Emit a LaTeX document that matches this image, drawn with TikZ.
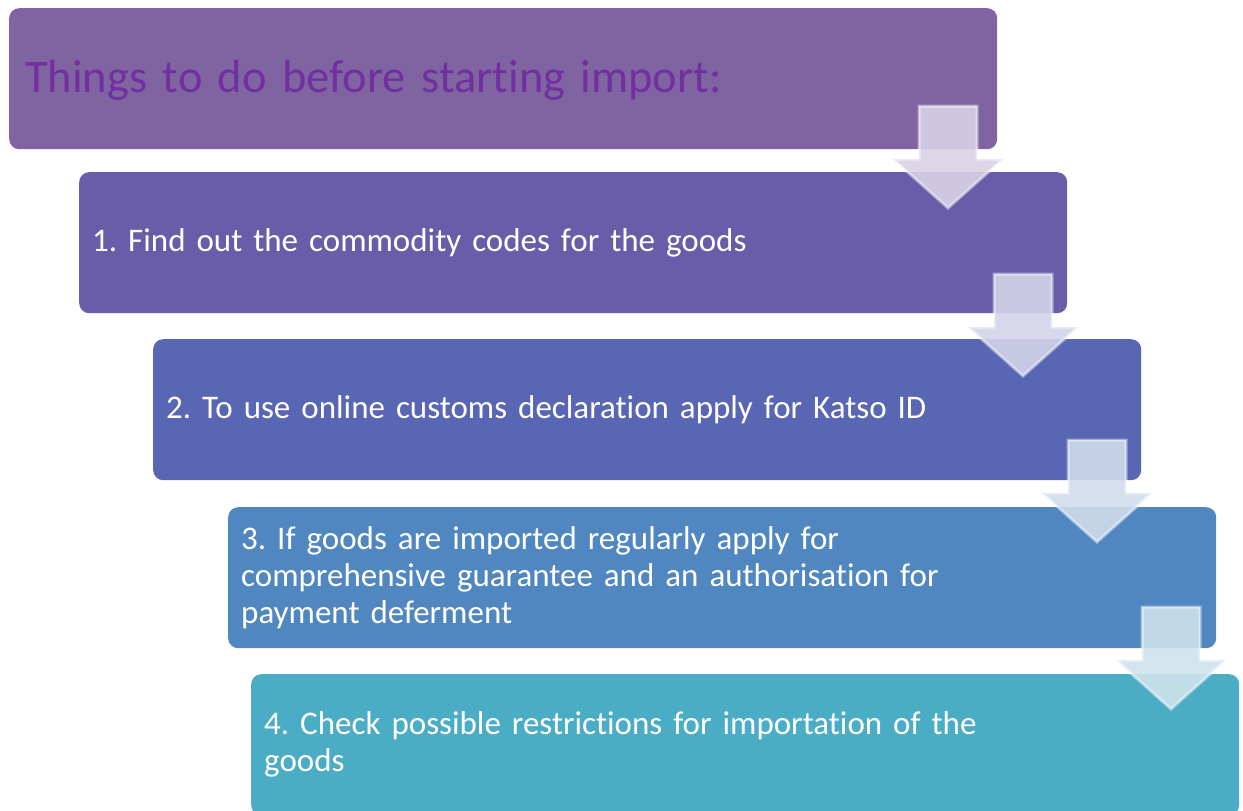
\documentclass[tikz,border=0pt]{standalone}
\usepackage{fontspec}
\setmainfont{Carlito}[Ligatures={NoCommon}]
\definecolor{bzero}{HTML}{8064A2}
\definecolor{bone}{HTML}{695DAA}
\definecolor{btwo}{HTML}{5866B3}
\definecolor{bthree}{HTML}{5087C0}
\definecolor{bfour}{HTML}{4BACC6}
\definecolor{titlecol}{HTML}{7030A0}
\definecolor{aone}{HTML}{D8D2E6}
\definecolor{atwo}{HTML}{D4D4EA}
\definecolor{athree}{HTML}{D0DCEB}
\definecolor{afour}{HTML}{CEE3EC}
\frenchspacing
\begin{document}
\begin{tikzpicture}[x=1pt,y=-1pt,
  stepbox/.style={rectangle, rounded corners=10pt, anchor=north west,
    minimum width=988pt, minimum height=141pt, text=white, align=left,
    inner xsep=13pt, text width=962pt,
    font=\fontsize{33}{37}\selectfont},
  downarr/.style={fill=#1, fill opacity=0.9, draw=white, draw opacity=0.45, line width=3pt, line join=miter},
]
\clip (0,0) rectangle (1243,811);
\useasboundingbox (0,0) rectangle (1243,811);
\node[stepbox, fill=bzero, text=titlecol, inner xsep=16pt, text width=956pt,
  text height=37pt, text depth=9pt,
  font=\fontsize{46.5}{56}\selectfont] (b0) at (9,8) {Things to do before starting import:};
\node[stepbox, fill=bone] (b1) at (79,172) {1. Find out the commodity codes for the goods};
\node[stepbox, fill=btwo] (b2) at (153,339) {2. To use online customs declaration apply for Katso ID};
\node[stepbox, fill=bthree] (b3) at (228,507) {3. If goods are imported regularly apply for\\comprehensive guarantee and an authorisation for\\payment deferment};
\node[stepbox, fill=bfour] (b4) at (251,674) {4. Check possible restrictions for importation of the\\goods};
\foreach \cx/\ty/\c in {948/106/aone, 1023/274/atwo, 1097/440/athree, 1171/607/afour}{
  \draw[downarr=\c] (\cx-29,\ty) -- (\cx+29,\ty) -- (\cx+29,\ty+53) -- (\cx+55,\ty+53)
    -- (\cx,\ty+102) -- (\cx-55,\ty+53) -- (\cx-29,\ty+53) -- cycle;
}
\end{tikzpicture}
\end{document}
